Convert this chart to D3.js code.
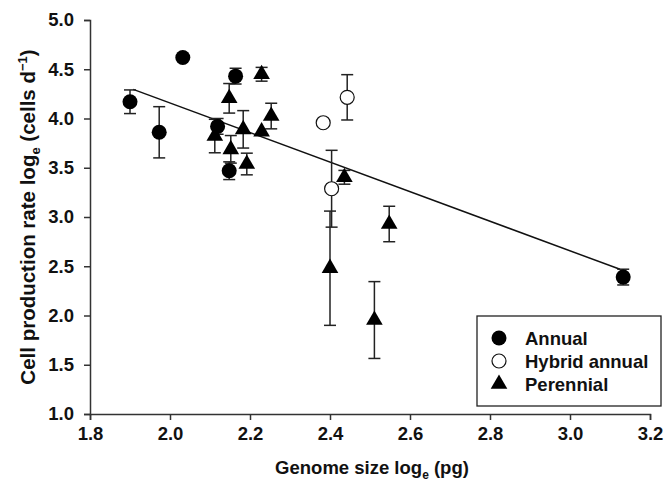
<!DOCTYPE html>
<html>
<head>
<meta charset="utf-8">
<script src="https://cdn.jsdelivr.net/npm/d3@7"></script>
<style>
  body { margin: 0; background: #fff; }
  svg { display: block; }
  text { font-family: "Liberation Sans", Arial, sans-serif; font-weight: bold; fill: #111; }
</style>
</head>
<body>
<svg id="chart" width="667" height="487"></svg>
<script>
// ---- data ----
const annualX   = [1.900, 1.973, 2.032, 2.164, 2.119, 2.148, 3.133];
const annualY   = [4.17, 3.86, 4.62, 4.43, 3.92, 3.47, 2.39];
const annualErr = [0.12, 0.26, 0.00, 0.08, 0.08, 0.09, 0.08];

const hybridX   = [2.443, 2.383, 2.404];
const hybridY   = [4.215, 3.957, 3.287];
const hybridErr = [0.23, 0.00, 0.39];

const perennialX   = [2.229, 2.148, 2.253, 2.183, 2.229, 2.112, 2.152, 2.192, 2.436, 2.400, 2.548, 2.511];
const perennialY   = [4.449, 4.205, 4.025, 3.890, 3.866, 3.822, 3.687, 3.538, 3.403, 2.480, 2.929, 1.954];
const perennialErr = [0.07, 0.15, 0.13, 0.19, 0.00, 0.17, 0.14, 0.11, 0.07, 0.58, 0.18, 0.39];

const fitX = [1.908, 3.125];
const fitY = [4.296, 2.469];

const xTicks = [1.8, 2.0, 2.2, 2.4, 2.6, 2.8, 3.0, 3.2];
const yTicks = [1.0, 1.5, 2.0, 2.5, 3.0, 3.5, 4.0, 4.5, 5.0];
const legendLabels = ["Annual", "Hybrid annual", "Perennial"];

// ---- layout ----
const svg = d3.select("#chart");
const x = d3.scaleLinear().domain([1.8, 3.2]).range([90, 650]);
const y = d3.scaleLinear().domain([1.0, 5.0]).range([414, 20]);
const axisColor = "#333";

// axes
const gx = svg.append("g").attr("transform", "translate(0,414)")
  .call(d3.axisBottom(x).tickValues(xTicks).tickFormat(d3.format(".1f")).tickSizeOuter(0).tickSize(6).tickPadding(7));
const gy = svg.append("g").attr("transform", "translate(90,0)")
  .call(d3.axisLeft(y).tickValues(yTicks).tickFormat(d3.format(".1f")).tickSizeOuter(0).tickSize(6).tickPadding(10));
[gx, gy].forEach(g => {
  g.select(".domain").attr("stroke", axisColor).attr("stroke-width", 1.5);
  g.selectAll(".tick line").attr("stroke", axisColor).attr("stroke-width", 1.5);
  g.selectAll(".tick text").attr("font-size", 18.5).attr("font-family", "Liberation Sans, Arial, sans-serif")
    .attr("font-weight", "bold").attr("fill", "#111");
});

// axis titles
const xt = svg.append("text").attr("x", 372).attr("y", 474).attr("text-anchor", "middle").attr("font-size", 18.5);
xt.append("tspan").text("Genome size log");
xt.append("tspan").attr("font-size", 12).attr("dy", 5).text("e");
xt.append("tspan").attr("dy", -5).text(" (pg)");

const yt = svg.append("text").attr("transform", "translate(35,217) rotate(-90)").attr("text-anchor", "middle").attr("font-size", 20.5);
yt.append("tspan").text("Cell production rate log");
yt.append("tspan").attr("font-size", 13).attr("dy", 5).text("e");
yt.append("tspan").attr("dy", -5).text(" (cells d");
yt.append("tspan").attr("font-size", 13).attr("dy", -8).text("\u22121");
yt.append("tspan").attr("dy", 8).text(")");

// regression line
svg.append("line")
  .attr("x1", x(fitX[0])).attr("y1", y(fitY[0]))
  .attr("x2", x(fitX[1])).attr("y2", y(fitY[1]))
  .attr("stroke", "#111").attr("stroke-width", 1.5);

// error bars
function errorBars(xs, ys, es) {
  const g = svg.append("g").attr("stroke", "#222").attr("stroke-width", 1.5);
  xs.forEach((xv, i) => {
    if (!es[i]) return;
    const cx = x(xv), top = y(ys[i] + es[i]), bot = y(ys[i] - es[i]);
    g.append("line").attr("x1", cx).attr("x2", cx).attr("y1", top).attr("y2", bot);
    g.append("line").attr("x1", cx - 6).attr("x2", cx + 6).attr("y1", top).attr("y2", top);
    g.append("line").attr("x1", cx - 6).attr("x2", cx + 6).attr("y1", bot).attr("y2", bot);
  });
}
errorBars(perennialX, perennialY, perennialErr);
errorBars(annualX, annualY, annualErr);
errorBars(hybridX, hybridY, hybridErr);

const triPath = d3.symbol().type(d3.symbolTriangle).size(120)();
const R = 7.5;

// markers
svg.append("g").selectAll("path").data(perennialX).join("path")
  .attr("d", triPath)
  .attr("transform", (d, i) => `translate(${x(d)},${y(perennialY[i])})`)
  .attr("fill", "#000");
svg.append("g").selectAll("circle").data(annualX).join("circle")
  .attr("cx", d => x(d)).attr("cy", (d, i) => y(annualY[i])).attr("r", R)
  .attr("fill", "#000");
svg.append("g").selectAll("circle").data(hybridX).join("circle")
  .attr("cx", d => x(d)).attr("cy", (d, i) => y(hybridY[i])).attr("r", R - 0.5)
  .attr("fill", "#fff").attr("stroke", "#111").attr("stroke-width", 1.2);

// legend
const lg = svg.append("g");
lg.append("rect").attr("x", 477).attr("y", 316).attr("width", 184).attr("height", 90)
  .attr("fill", "#fff").attr("stroke", "#222").attr("stroke-width", 1.3);
const ly = [338, 361, 384];
lg.append("circle").attr("cx", 499).attr("cy", ly[0]).attr("r", R).attr("fill", "#000");
lg.append("circle").attr("cx", 499).attr("cy", ly[1]).attr("r", R - 0.5).attr("fill", "#fff").attr("stroke", "#111").attr("stroke-width", 1.2);
lg.append("path").attr("d", triPath).attr("transform", `translate(499,${ly[2]})`).attr("fill", "#000");
legendLabels.forEach((t, i) => {
  lg.append("text").attr("x", 525).attr("y", ly[i] + 6.5).attr("font-size", 18.5).text(t);
});
</script>
</body>
</html>
